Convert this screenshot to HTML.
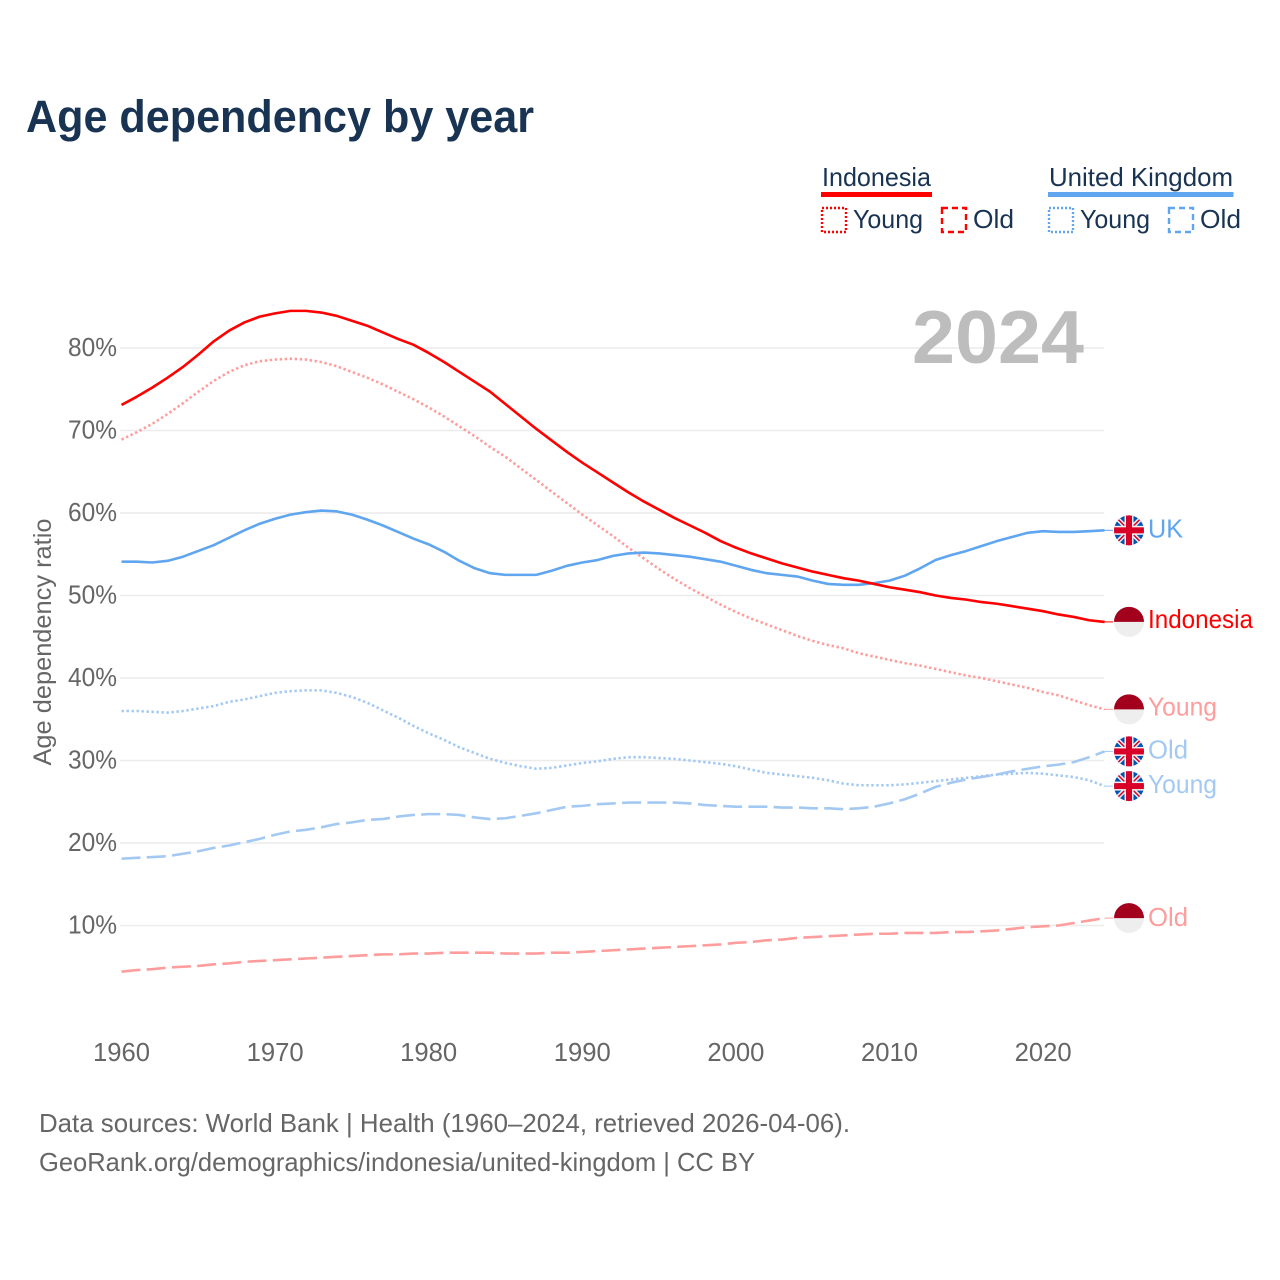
<!DOCTYPE html>
<html lang="en">
<head>
<meta charset="utf-8">
<title>Age dependency by year</title>
<style>
html,body{margin:0;padding:0;background:#fff;}
svg{display:block;font-family:"Liberation Sans",sans-serif;}
</style>
</head>
<body>
<svg id="chart" width="1280" height="1280" viewBox="0 0 1280 1280" xmlns="http://www.w3.org/2000/svg">
  <rect width="1280" height="1280" fill="#fff"/>
  <text x="26" y="132" font-size="45" font-weight="700" fill="#193353" textLength="508" lengthAdjust="spacingAndGlyphs">Age dependency by year</text>

  <g>
    <g>
      <text x="822" y="186" font-size="26" fill="#193353" textLength="109" lengthAdjust="spacingAndGlyphs">Indonesia</text>
      <rect x="821" y="192" width="111" height="5" fill="#ff0000"/>
      <rect x="822" y="208" width="24" height="24" fill="none" stroke="#ff0000" stroke-width="2.4" stroke-dasharray="2 2"/>
      <text x="853" y="228" font-size="26" fill="#193353" textLength="70" lengthAdjust="spacingAndGlyphs">Young</text>
      <rect x="942" y="208" width="24" height="24" fill="none" stroke="#ff0000" stroke-width="2.4" stroke-dasharray="6 4"/>
      <text x="973" y="228" font-size="26" fill="#193353" textLength="41" lengthAdjust="spacingAndGlyphs">Old</text>
    </g>
    <g>
      <text x="1049" y="186" font-size="26" fill="#193353" textLength="184" lengthAdjust="spacingAndGlyphs">United Kingdom</text>
      <rect x="1048" y="192" width="185.500" height="5" fill="#5fa5ef"/>
      <rect x="1049" y="208" width="24" height="24" fill="none" stroke="#5fa5ef" stroke-width="2.4" stroke-dasharray="2 2"/>
      <text x="1080" y="228" font-size="26" fill="#193353" textLength="70" lengthAdjust="spacingAndGlyphs">Young</text>
      <rect x="1169" y="208" width="24" height="24" fill="none" stroke="#5fa5ef" stroke-width="2.4" stroke-dasharray="6 4"/>
      <text x="1200" y="228" font-size="26" fill="#193353" textLength="41" lengthAdjust="spacingAndGlyphs">Old</text>
    </g>
  </g>

  <text transform="translate(51 642) rotate(-90)" text-anchor="middle" font-size="25" fill="#666666" textLength="247" lengthAdjust="spacingAndGlyphs">Age dependency ratio</text>
  <g id="grid"></g>
  <g id="yticks"></g>
  <g id="xticks"></g>
  <text x="912" y="363" font-size="75" font-weight="700" fill="#bdbdbd" textLength="172" lengthAdjust="spacingAndGlyphs">2024</text>
  <g id="series"></g>
  <g id="ends"></g>

  <text x="39" y="1132" font-size="26" fill="#666666" textLength="811" lengthAdjust="spacingAndGlyphs">Data sources: World Bank | Health (1960–2024, retrieved 2026-04-06).</text>
  <text x="39" y="1171" font-size="26" fill="#666666" textLength="716" lengthAdjust="spacingAndGlyphs">GeoRank.org/demographics/indonesia/united-kingdom | CC BY</text>
</svg>
<script>
const firstYear = 1960;
const yTickValues = [10, 20, 30, 40, 50, 60, 70, 80];
const xTickValues = [1960, 1970, 1980, 1990, 2000, 2010, 2020];

const indonesiaTotal = [73.1,74.1,75.2,76.4,77.7,79.2,80.8,82.1,83.1,83.8,84.2,84.5,84.5,84.3,83.9,83.3,82.7,81.9,81.1,80.4,79.4,78.3,77.1,75.9,74.7,73.2,71.7,70.2,68.8,67.4,66.1,64.9,63.7,62.5,61.4,60.4,59.4,58.5,57.6,56.6,55.8,55.1,54.5,53.9,53.4,52.9,52.5,52.1,51.8,51.4,51.0,50.7,50.4,50.0,49.7,49.5,49.2,49.0,48.7,48.4,48.1,47.7,47.4,47.0,46.8];
const indonesiaYoung = [68.9,69.8,70.8,72.0,73.3,74.7,76.0,77.1,77.9,78.4,78.6,78.7,78.6,78.3,77.8,77.1,76.4,75.6,74.7,73.8,72.8,71.7,70.5,69.3,68.0,66.8,65.4,64.0,62.6,61.2,59.8,58.5,57.2,55.8,54.5,53.2,52.0,50.9,49.9,48.9,48.0,47.2,46.5,45.8,45.1,44.5,44.0,43.6,43.0,42.6,42.2,41.8,41.5,41.1,40.7,40.3,40.0,39.6,39.2,38.8,38.3,37.9,37.3,36.7,36.2];
const indonesiaOld = [4.4,4.6,4.7,4.9,5.0,5.1,5.3,5.4,5.6,5.7,5.8,5.9,6.0,6.1,6.2,6.3,6.4,6.5,6.5,6.6,6.6,6.7,6.7,6.7,6.7,6.6,6.6,6.6,6.7,6.7,6.8,6.9,7.0,7.1,7.2,7.3,7.4,7.5,7.6,7.7,7.9,8.0,8.2,8.3,8.5,8.6,8.7,8.8,8.9,9.0,9.0,9.1,9.1,9.1,9.2,9.2,9.3,9.4,9.6,9.8,9.9,10.0,10.3,10.6,10.9];
const ukTotal = [54.1,54.1,54.0,54.2,54.7,55.4,56.1,57.0,57.9,58.7,59.3,59.8,60.1,60.3,60.2,59.8,59.2,58.5,57.7,56.9,56.2,55.3,54.2,53.3,52.7,52.5,52.5,52.5,53.0,53.6,54.0,54.3,54.8,55.1,55.2,55.1,54.9,54.7,54.4,54.1,53.6,53.1,52.7,52.5,52.3,51.8,51.4,51.3,51.3,51.5,51.8,52.4,53.3,54.3,54.9,55.4,56.0,56.6,57.1,57.6,57.8,57.7,57.7,57.8,57.9];
const ukYoung = [36.0,36.0,35.9,35.8,36.0,36.3,36.6,37.1,37.4,37.8,38.2,38.4,38.5,38.5,38.2,37.7,37.0,36.1,35.2,34.2,33.3,32.5,31.6,30.9,30.2,29.7,29.3,29.0,29.1,29.4,29.7,29.9,30.2,30.4,30.4,30.3,30.2,30.0,29.8,29.6,29.3,28.9,28.5,28.3,28.1,27.9,27.6,27.2,27.0,27.0,27.0,27.1,27.3,27.5,27.7,27.9,28.1,28.3,28.4,28.5,28.4,28.2,28.0,27.6,26.9];
const ukOld = [18.1,18.2,18.3,18.4,18.7,19.0,19.4,19.7,20.1,20.5,21.0,21.4,21.6,21.9,22.3,22.5,22.8,22.9,23.2,23.4,23.5,23.5,23.4,23.1,22.9,23.0,23.3,23.6,24.0,24.4,24.5,24.7,24.8,24.9,24.9,24.9,24.9,24.8,24.6,24.5,24.4,24.4,24.4,24.3,24.3,24.2,24.2,24.1,24.2,24.4,24.8,25.3,26.0,26.8,27.3,27.7,28.0,28.3,28.7,29.0,29.3,29.5,29.8,30.4,31.1];

const NS = 'http://www.w3.org/2000/svg';

function xScale(year) { return 121.5 + (year - 1960) * 15.36; }
function yScale(value) { return 1008 - value * 8.25; }

function make(tag, attrs, parent) {
  const el = document.createElementNS(NS, tag);
  for (const k in attrs) el.setAttribute(k, attrs[k]);
  parent.appendChild(el);
  return el;
}

const gridLayer = document.getElementById('grid');
const yTickLayer = document.getElementById('yticks');
const xTickLayer = document.getElementById('xticks');
const seriesLayer = document.getElementById('series');
const endLayer = document.getElementById('ends');

yTickValues.forEach(function (v) {
  const line = make('line', { x1: 120, x2: 1104, y1: yScale(v), y2: yScale(v), stroke: '#ececec', 'stroke-width': 1.5 }, gridLayer);
  
  
  const label = make('text', { x: 117, y: yScale(v) + 8, 'text-anchor': 'end', 'font-size': 25.5, fill: '#666666', textLength: 49, lengthAdjust: 'spacingAndGlyphs' }, yTickLayer);
  label.textContent = v + '%';
  
  
});

xTickValues.forEach(function (yr) {
  const label = make('text', { x: xScale(yr), y: 1061, 'text-anchor': 'middle', 'font-size': 25.5, fill: '#666666', textLength: 57, lengthAdjust: 'spacingAndGlyphs' }, xTickLayer);
  label.textContent = yr;
  
  
});

function drawLine(values, color, dash, name) {
  const pts = values.map(function (v, i) {
    return xScale(firstYear + i).toFixed(2) + ',' + yScale(v).toFixed(2);
  }).join(' ');
  const attrs = { points: pts, fill: 'none', stroke: color, 'stroke-width': 2.6, 'stroke-linejoin': 'round' };
  if (dash) attrs['stroke-dasharray'] = dash;
  const line = make('polyline', attrs, seriesLayer);
  
  
}

const RED = '#ff0000', BLUE = '#5fa5ef', PINK = '#ff9c9c', SKY = '#a3c9f3';
const DOT = '2.4 2.6', DASH = '19 6.3';
drawLine(indonesiaOld, PINK, DASH, 'line-indonesia-old');
drawLine(indonesiaYoung, PINK, DOT, 'line-indonesia-young');
drawLine(ukOld, SKY, DASH, 'line-uk-old');
drawLine(ukYoung, SKY, DOT, 'line-uk-young');
drawLine(ukTotal, BLUE, '', 'line-uk-total');
drawLine(indonesiaTotal, RED, '', 'line-indonesia-total');

let clipCount = 0;
function indonesiaFlag(g, cx, cy) {
  make('circle', { cx: cx, cy: cy, r: 15, fill: '#eeeeee' }, g);
  make('path', { d: 'M' + (cx - 15) + ' ' + cy + 'A15 15 0 0 1 ' + (cx + 15) + ' ' + cy + 'Z', fill: '#a2001d' }, g);
}
function ukFlag(g, cx, cy) {
  clipCount += 1;
  const id = 'flagclip' + clipCount;
  const cp = make('clipPath', { id: id }, g);
  make('circle', { cx: cx, cy: cy, r: 15 }, cp);
  const f = make('g', { 'clip-path': 'url(#' + id + ')' }, g);
  make('rect', { x: cx - 16, y: cy - 16, width: 32, height: 32, fill: '#0052b4' }, f);
  const d1 = 'M' + (cx - 16) + ' ' + (cy - 16) + 'L' + (cx + 16) + ' ' + (cy + 16);
  const d2 = 'M' + (cx + 16) + ' ' + (cy - 16) + 'L' + (cx - 16) + ' ' + (cy + 16);
  make('path', { d: d1 + d2, stroke: '#f0f0f0', 'stroke-width': 4.5, fill: 'none' }, f);
  make('path', { d: d1 + d2, stroke: '#d80027', 'stroke-width': 1.5, fill: 'none' }, f);
  make('rect', { x: cx - 16, y: cy - 4.5, width: 32, height: 9, fill: '#f0f0f0' }, f);
  make('rect', { x: cx - 4.5, y: cy - 16, width: 9, height: 32, fill: '#f0f0f0' }, f);
  make('rect', { x: cx - 16, y: cy - 3, width: 32, height: 6, fill: '#d80027' }, f);
  make('rect', { x: cx - 3, y: cy - 16, width: 6, height: 32, fill: '#d80027' }, f);
}

function endLabel(values, text, width, color, flagFn, dy, name) {
  const g = make('g', {}, endLayer);
  
  
  const yEnd = yScale(values[values.length - 1]);
  make('line', { x1: xScale(2024), x2: 1113, y1: yEnd, y2: yEnd, stroke: color, 'stroke-width': 1 }, g);
  flagFn(g, 1129, yEnd);
  const label = make('text', { x: 1148, y: yEnd + dy, 'font-size': 26, fill: color, textLength: width, lengthAdjust: 'spacingAndGlyphs' }, g);
  label.textContent = text;
}

endLabel(ukTotal, 'UK', 35, BLUE, ukFlag, 7, 'end-label-uk-total');
endLabel(indonesiaTotal, 'Indonesia', 105, RED, indonesiaFlag, 6, 'end-label-indonesia-total');
endLabel(indonesiaYoung, 'Young', 69, PINK, indonesiaFlag, 6, 'end-label-indonesia-young');
endLabel(ukOld, 'Old', 40, SKY, ukFlag, 7, 'end-label-uk-old');
endLabel(ukYoung, 'Young', 69, SKY, ukFlag, 7, 'end-label-uk-young');
endLabel(indonesiaOld, 'Old', 40, PINK, indonesiaFlag, 8, 'end-label-indonesia-old');
</script>
</body>
</html>
